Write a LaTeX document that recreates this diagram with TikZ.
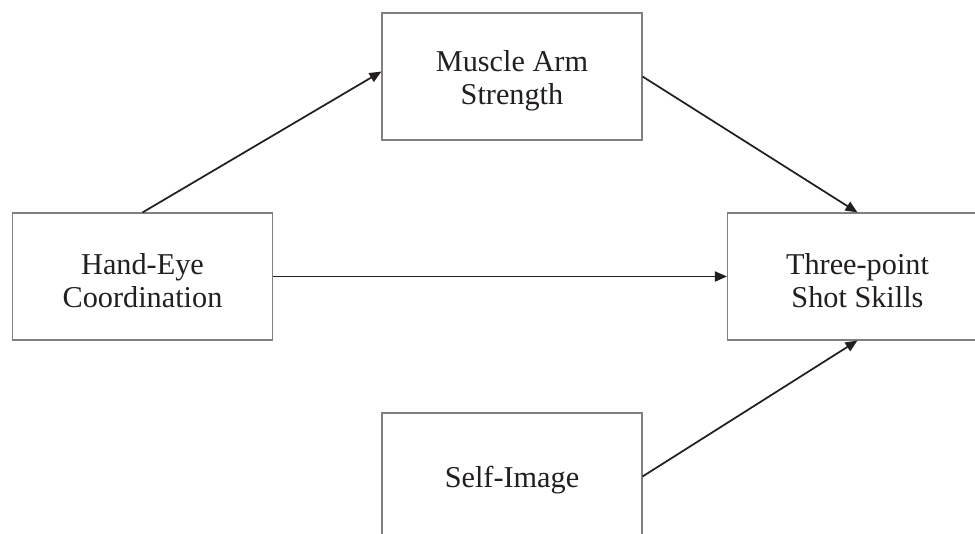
\documentclass[tikz,border=0pt]{standalone}
\usepackage{fontspec}
\setmainfont{Liberation Serif}
\usetikzlibrary{arrows.meta,calc}
\definecolor{ink}{HTML}{231F20}
\definecolor{boxline}{HTML}{808080}
\begin{document}
\begin{tikzpicture}[x=0.75pt,y=-0.75pt,
  box/.style={draw=boxline,line width=0.8pt,fill=white,minimum width=195pt,minimum height=95.25pt,
    inner sep=0pt},
  txt/.style={align=center,text=ink,inner sep=0pt,yshift=-3pt,font=\fontsize{22.7}{25}\selectfont},
  link/.style={draw=ink,line width=1.3pt,-{Triangle[length=9pt,width=7.5pt]}}]
\useasboundingbox (0,0) rectangle (975,533);
\clip (0,0) rectangle (975,533);
\node[box,label={[txt]center:Muscle Arm\\Strength}] (muscle) at (512,76.5) {};
\node[box,label={[txt]center:Hand-Eye\\Coordination}] (hand) at (142.5,276.5) {};
\node[box,label={[txt]center:Three-point\\Shot Skills}] (three) at (857.5,276.5) {};
\node[box,label={[txt]center:Self-Image}] (self) at (512,476.5) {};
\draw[link] (hand.north) -- ($(muscle.west)+(0,-5)$);
\draw[link] (muscle.east) -- (three.north);
\draw[link] (hand.east) -- (three.west);
\draw[link] (self.east) -- (three.south);
\end{tikzpicture}
\end{document}
